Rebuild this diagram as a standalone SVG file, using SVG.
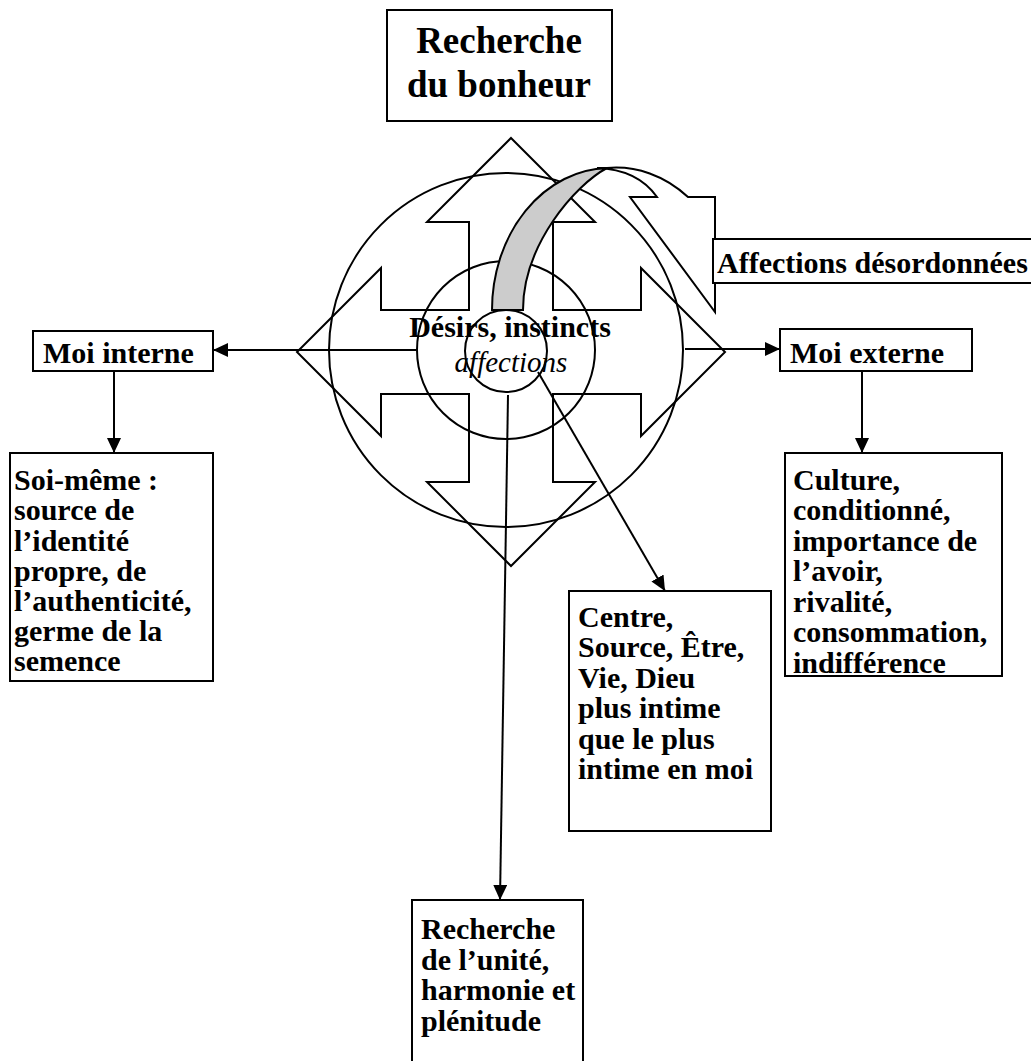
<svg xmlns="http://www.w3.org/2000/svg" width="1031" height="1061" viewBox="0 0 1031 1061">
<style>
text{font-family:"Liberation Serif","Times New Roman",serif;font-weight:bold;font-size:30px;fill:#000}
.title{font-size:37px}
.it{font-style:italic;font-weight:normal;font-size:29px}
.box{fill:#fff;stroke:#000;stroke-width:2}
.ln{fill:none;stroke:#000;stroke-width:2}
.conn{fill:none;stroke:#000;stroke-width:2;marker-end:url(#ah)}
</style>
<defs>
<marker id="ah" markerUnits="userSpaceOnUse" markerWidth="16" markerHeight="14" refX="15" refY="7" orient="auto">
<path d="M0,0 L15,7 L0,14 Z" fill="#000"/>
</marker>
</defs>
<rect width="1031" height="1061" fill="#fff"/>

<g id="title">
<rect class="box" x="387" y="10" width="225" height="111"/>
<text class="title" x="499" y="53" text-anchor="middle">Recherche</text>
<text class="title" x="499" y="97" text-anchor="middle">du bonheur</text>
</g>

<g id="centre-figure">
<circle class="ln" cx="506" cy="350" r="177"/>
<circle class="ln" cx="506" cy="350" r="89"/>
<circle class="ln" cx="506" cy="351" r="41"/>
<polygon class="ln" points="511,138 595,222 553,222 553,310 641,310 641,268 725,352 641,436 641,394 553,394 553,482 595,482 511,566 427,482 469,482 469,394 381,394 381,436 297,352 381,268 381,310 469,310 469,222 427,222"/>
<text x="510" y="337" text-anchor="middle">Désirs, instincts</text>
<text class="it" x="511" y="372" text-anchor="middle">affections</text>
</g>

<g id="curved-arrow">
<path d="M492,310 A118,142 0 0 1 607,168 C575,185 523,245 523,310 Z" fill="#cccccc" stroke="#000" stroke-width="2"/>
<path d="M607,168 A118,142 0 0 1 688,197 L715,197 L715,312 L630,197 L657,197 C645,180 625,169 597,168 Z" fill="#fff" stroke="#000" stroke-width="2" stroke-linejoin="miter"/>
</g>

<g id="affections-desordonnees">
<rect class="box" x="713" y="239" width="330" height="44"/>
<text x="717" y="273">Affections désordonnées</text>
</g>

<g id="moi-interne">
<rect class="box" x="33" y="331" width="180" height="40"/>
<text x="43" y="363">Moi interne</text>
</g>

<g id="moi-externe">
<rect class="box" x="780" y="329" width="192" height="42"/>
<text x="790" y="363">Moi externe</text>
</g>

<g id="soi-meme">
<rect class="box" x="10" y="453" width="203" height="228"/>
<text x="14" y="490">Soi-même :</text>
<text x="14" y="520">source de</text>
<text x="14" y="551">l’identité</text>
<text x="14" y="581">propre, de</text>
<text x="14" y="611">l’authenticité,</text>
<text x="14" y="641">germe de la</text>
<text x="14" y="671">semence</text>
</g>

<g id="culture">
<rect class="box" x="785" y="453" width="217" height="223"/>
<text x="793" y="490">Culture,</text>
<text x="793" y="520">conditionné,</text>
<text x="793" y="551">importance de</text>
<text x="793" y="581">l’avoir,</text>
<text x="793" y="612">rivalité,</text>
<text x="793" y="642">consommation,</text>
<text x="793" y="673">indifférence</text>
</g>

<g id="centre-source">
<rect class="box" x="569" y="591" width="202" height="240"/>
<text x="578" y="627">Centre,</text>
<text x="578" y="657">Source, Être,</text>
<text x="578" y="688">Vie, Dieu</text>
<text x="578" y="718">plus intime</text>
<text x="578" y="749">que le plus</text>
<text x="578" y="779">intime en moi</text>
</g>

<g id="unite">
<rect class="box" x="412" y="900" width="171" height="170"/>
<text x="421" y="939">Recherche</text>
<text x="421" y="970">de l’unité,</text>
<text x="421" y="1000">harmonie et</text>
<text x="421" y="1031">plénitude</text>
</g>

<g id="connectors">
<line class="conn" x1="416" y1="350" x2="213" y2="350"/>
<line class="conn" x1="685" y1="349" x2="780" y2="349"/>
<line class="conn" x1="114" y1="371" x2="114" y2="453"/>
<line class="conn" x1="862" y1="371" x2="862" y2="453"/>
<line class="conn" x1="538" y1="372" x2="665" y2="591"/>
<line class="conn" x1="508" y1="395" x2="500" y2="900"/>
</g>
</svg>
